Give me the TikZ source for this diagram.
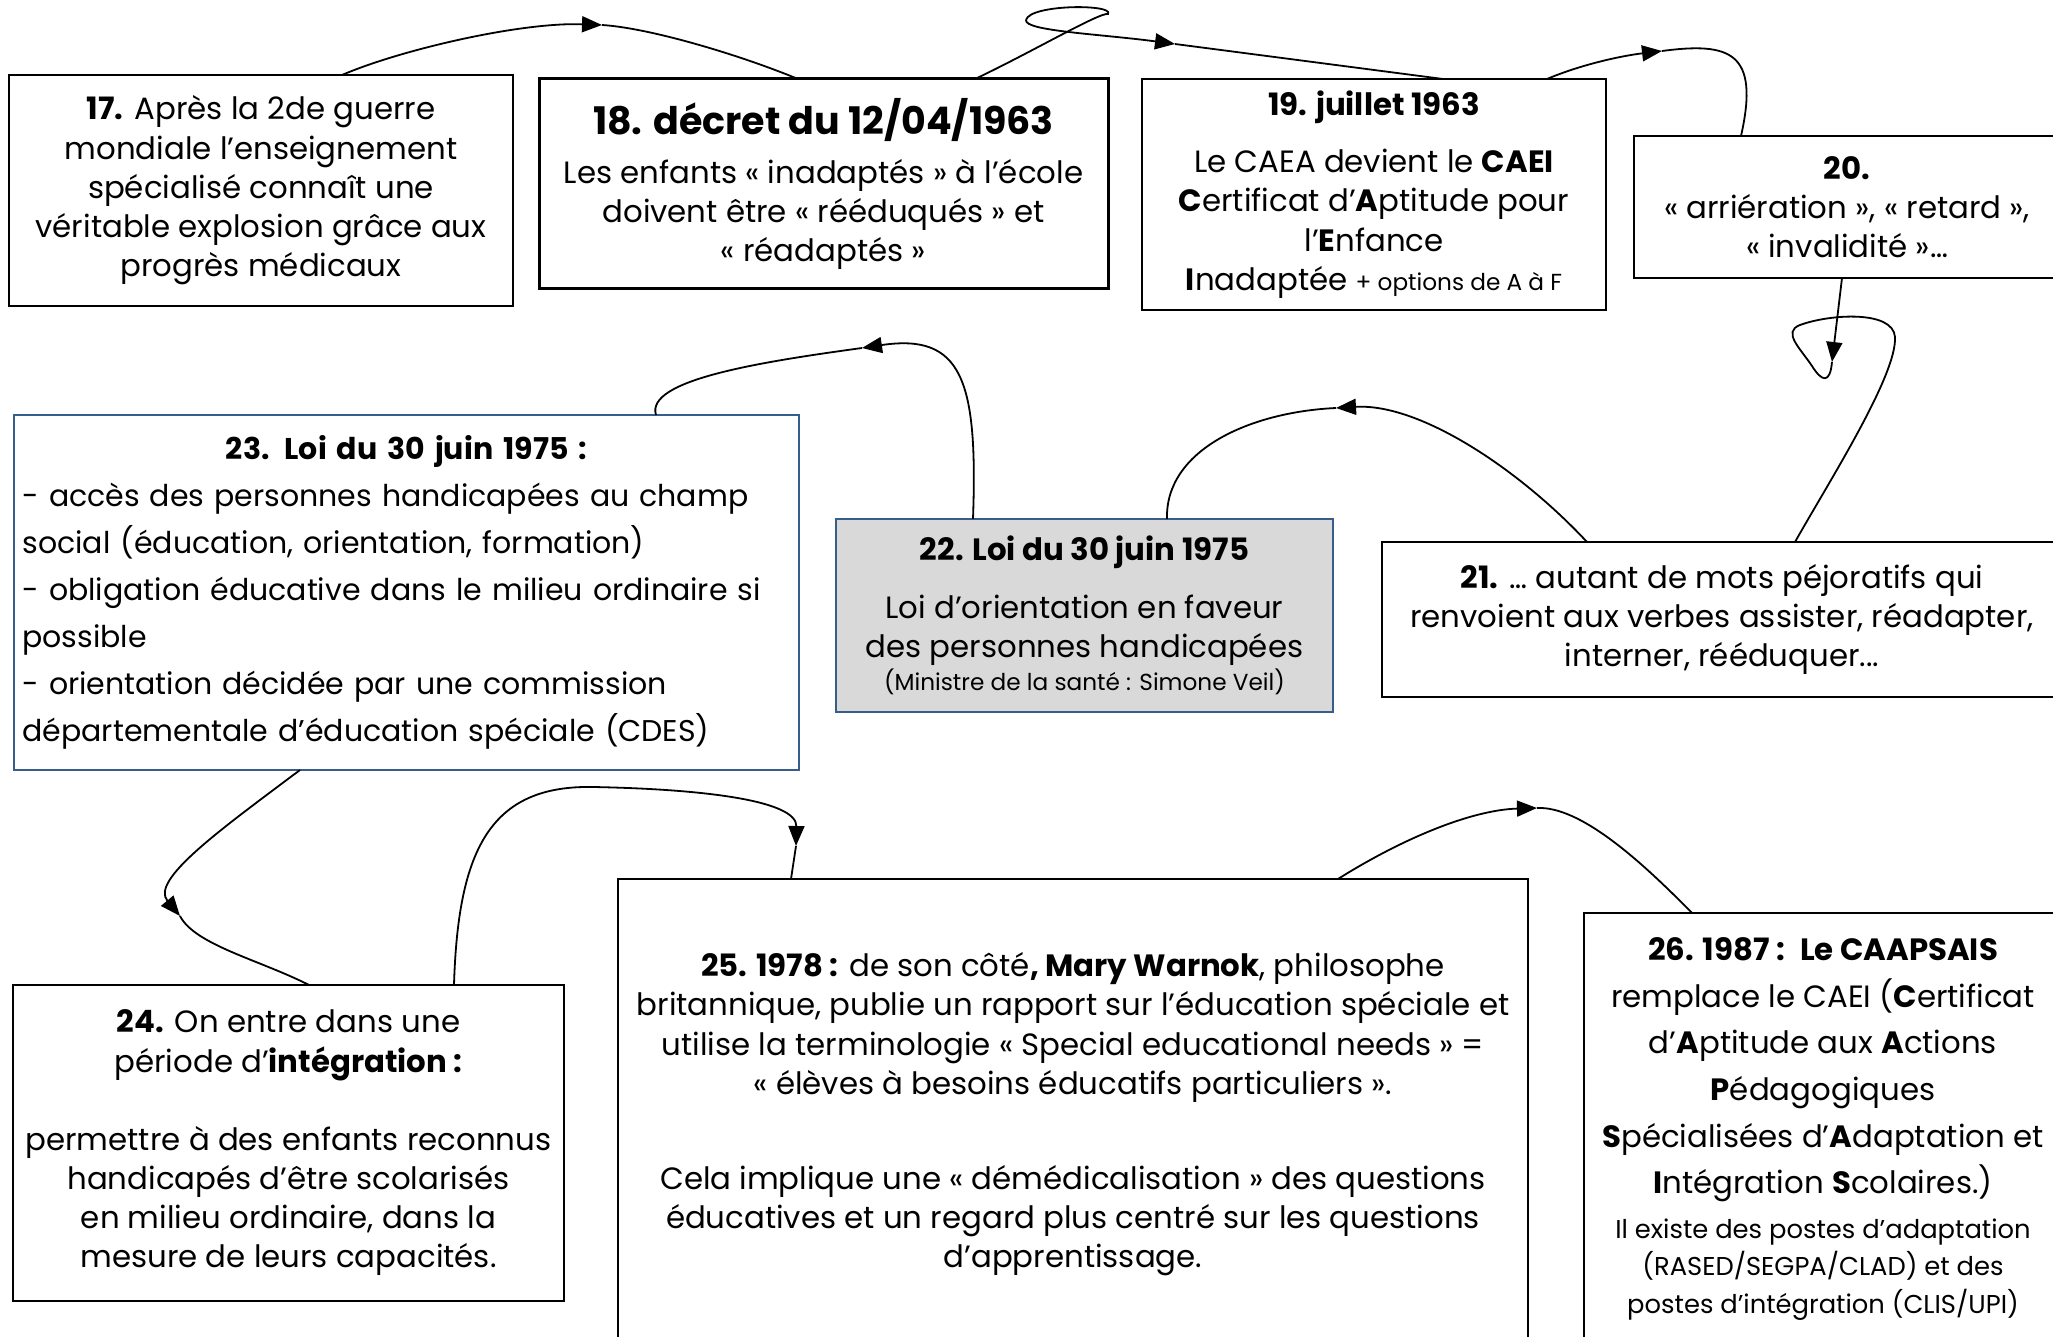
\documentclass[tikz,border=0pt]{standalone}
\usepackage{fontspec}
\setmainfont{Poppins}
\usetikzlibrary{arrows.meta}
\definecolor{shapeblue}{RGB}{56,93,138}
\definecolor{shadegrey}{RGB}{217,217,217}
\newcommand{\bodysize}{\fontsize{15.4}{19.6}\selectfont}
\newcommand{\smallsize}{\fontsize{11.6}{13}\selectfont}
\newcommand{\notesize}{\fontsize{12.9}{15}\selectfont}
\newcommand{\bigsize}{\fontsize{19}{24}\selectfont}
\tikzstyle{box}=[draw, line width=1pt, inner sep=0, outer sep=0, align=center, font=\bodysize]
\tikzstyle{bluebox}=[box, draw=shapeblue, line width=0.8pt]
\tikzstyle{wire}=[line width=0.9pt]
\tikzstyle{tip}=[wire, -{Triangle[length=10pt, width=8pt]}]
\tikzstyle{timeline}=[x=0.5pt, y=-0.5pt]

\begin{document}
\begin{tikzpicture}[timeline]
    \useasboundingbox (0,0) rectangle (2053,1337);
    % boxes, top row
    \node[box, minimum width=252pt, minimum height=115.5pt] (n17) at (261,190.5)
        {\textbf{17.} Après la 2de guerre\\ mondiale l’enseignement\\ spécialisé connaît une\\ véritable explosion grâce aux\\ progrès médicaux};
    \node[box, line width=1.5pt, minimum width=284.5pt, minimum height=105pt] (n18) at (823.5,184)
        {{\bigsize\textbf{18. décret du 12/04/1963}}\\[5pt] Les enfants « inadaptés » à l’école\\ doivent être « rééduqués » et\\ « réadaptés »};
    \node[box, minimum width=232pt, minimum height=115.5pt] (n19) at (1374,194.5)
        {\textbf{19. juillet 1963}\\[9pt] Le CAEA devient le \textbf{CAEI}\\ \textbf{C}ertificat d’\textbf{A}ptitude pour\\ l’\textbf{E}nfance\\ \textbf{I}nadaptée {\smallsize + options de A à F}};
    \node[box, minimum width=213pt, minimum height=71pt] (n20) at (1847,207)
        {\textbf{20.}\\ « arriération », « retard »,\\ « invalidité »…};
    % boxes, middle row
    \node[box, minimum width=340pt, minimum height=77.5pt] (n21) at (1722,619.5)
        {\textbf{21.} … autant de mots péjoratifs qui\\ renvoient aux verbes assister, réadapter,\\ interner, rééduquer...};
    \node[bluebox, fill=shadegrey, minimum width=248.5pt, minimum height=96.5pt] (n22) at (1084.5,615.5)
        {\textbf{22. Loi du 30 juin 1975}\\[9pt] Loi d’orientation en faveur\\ des personnes handicapées\\[-3pt] {\smallsize (Ministre de la santé : Simone Veil)}};
    \node[bluebox, font=\fontsize{15}{23.5}\selectfont, align=left, text width=384pt, minimum width=392.5pt, minimum height=177.5pt] (n23) at (406.5,592.5)
        {\makebox[\linewidth]{\textbf{23. Loi du 30 juin 1975 :}}\\ - accès des personnes handicapées au champ\\ social (éducation, orientation, formation)\\ - obligation éducative dans le milieu ordinaire si\\ possible\\ - orientation décidée par une commission\\ départementale d’éducation spéciale (CDES)};
    % boxes, bottom row
    \node[box, minimum width=275.5pt, minimum height=158pt] (n24) at (288.5,1143)
        {\textbf{24.} On entre dans une\\ période d’\textbf{intégration :}\\[19.5pt] permettre à des enfants reconnus\\ handicapés d’être scolarisés\\ en milieu ordinaire, dans la\\ mesure de leurs capacités.};
    \node[box, minimum width=455pt, minimum height=235.5pt] (n25) at (1073,1114.5)
        {\textbf{25. 1978 :} de son côté\textbf{, Mary Warnok}, philosophe\\ britannique, publie un rapport sur l’éducation spéciale et\\ utilise la terminologie « Special educational needs » =\\ « élèves à besoins éducatifs particuliers ».\\[28pt] Cela implique une « démédicalisation » des questions\\ éducatives et un regard plus centré sur les questions\\ d’apprentissage.};
    \node[box, font=\fontsize{15.4}{23.3}\selectfont, minimum width=239pt, minimum height=216pt] (n26) at (1823,1129)
        {\textbf{26. 1987 :~ Le CAAPSAIS}\\ remplace le CAEI (\textbf{C}ertificat\\ d’\textbf{A}ptitude aux \textbf{A}ctions\\ \textbf{P}édagogiques\\ \textbf{S}pécialisées d’\textbf{A}daptation et\\ \textbf{I}ntégration \textbf{S}colaires.)\\[-1pt] {\notesize Il existe des postes d’adaptation}\\[-4.5pt] {\notesize (RASED/SEGPA/CLAD) et des}\\[-4.5pt] {\notesize postes d’intégration (CLIS/UPI)}};

    % arrow points
    \coordinate (m1) at (602,25);
    \coordinate (m2) at (1175,44);
    \coordinate (m3) at (1662,51);
    \coordinate (m4) at (1832,362);
    \coordinate (m5) at (1336,408);
    \coordinate (m6) at (862,348);
    \coordinate (m7) at (180,916);
    \coordinate (m8) at (796,846);
    \coordinate (m9) at (1537,808);

    % connectors
    \draw[tip] ([xshift=40.5pt]n17.north) .. controls (400,50) and (520,22) .. (m1);
    \draw[wire] (m1) .. controls (650,28) and (740,55) .. ([xshift=-12.75pt]n18.north);
    \draw[wire] ([xshift=75.75pt]n18.north) .. controls (1030,53) and (1100,12) .. (1108,14)
        .. controls (1115,4) and (1030,4) .. (1026,20);
    \draw[tip] (1026,20) .. controls (1024,31) and (1100,34) .. (m2);
    \draw[wire] (m2) -- ([xshift=34.5pt]n19.north);
    \draw[tip] ([xshift=86.5pt]n19.north) .. controls (1580,65) and (1620,56) .. (m3);
    \draw[wire] (m3) .. controls (1730,42) and (1760,52) .. ([xshift=-53pt]n20.north);
    \draw[tip] ([xshift=-2.5pt]n20.south) -- (m4);
    \draw[wire] (m4) .. controls (1830,384) and (1822,382) .. (1812,366)
        .. controls (1800,348) and (1782,332) .. (1800,325)
        .. controls (1830,314) and (1893,310) .. (1895,337)
        .. controls (1897,375) and (1830,480) .. ([xshift=36.5pt]n21.north);
    \draw[tip] ([xshift=-67.5pt]n21.north) .. controls (1520,470) and (1420,403) .. (m5);
    \draw[wire] (m5) .. controls (1250,412) and (1165,450) .. ([xshift=41.25pt]n22.north);
    \draw[tip] ([xshift=-55.75pt]n22.north) .. controls (978,380) and (962,333) .. (m6);
    \draw[wire] (m6) .. controls (760,362) and (645,380) .. ([xshift=124.75pt]n23.north);
    \draw[tip] ([xshift=-53.25pt]n23.south) .. controls (220,830) and (150,880) .. (m7);
    \draw[wire] (m7) .. controls (195,945) and (260,960) .. ([xshift=10.25pt]n24.north);
    \draw[tip] ([xshift=82.75pt]n24.north) .. controls (458,850) and (490,785) .. (593,787)
        .. controls (700,789) and (797,800) .. (m8);
    \draw[wire] (m8) -- ([xshift=-141pt]n25.north);
    \draw[tip] ([xshift=132.5pt]n25.north) .. controls (1400,840) and (1470,810) .. (m9);
    \draw[wire] (m9) .. controls (1580,806) and (1640,860) .. ([xshift=-65.5pt]n26.north);
\end{tikzpicture}
\end{document}
